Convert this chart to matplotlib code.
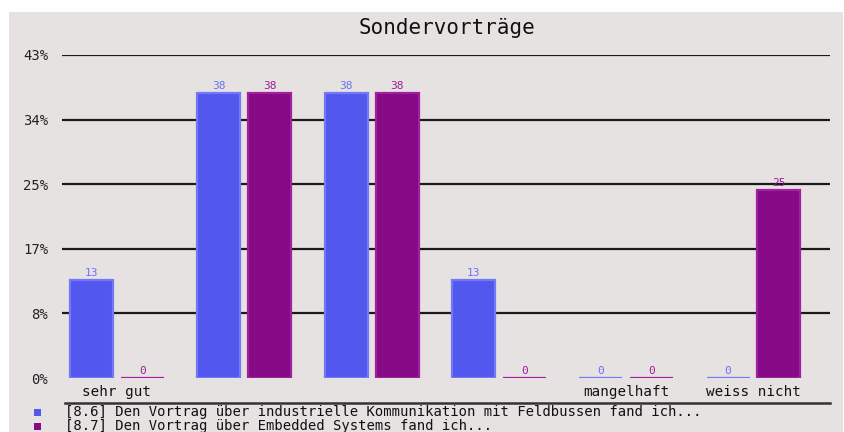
import matplotlib
matplotlib.use("Agg")
import matplotlib.pyplot as plt
from matplotlib.patches import Rectangle
from matplotlib.lines import Line2D

title = "Sondervorträge"
categories = ["sehr gut", "", "", "", "mangelhaft", "weiss nicht"]
series_names = [
    "[8.6] Den Vortrag über industrielle Kommunikation mit Feldbussen fand ich...",
    "[8.7] Den Vortrag über Embedded Systems fand ich...",
]
series1 = [13, 38, 38, 13, 0, 0]
series2 = [0, 38, 38, 0, 0, 25]
ytick_values = [0, 8.6, 17.2, 25.8, 34.4, 43]
ytick_labels = ["0%", "8%", "17%", "25%", "34%", "43%"]

fill_colors = ["#5257ee", "#860a86"]
edge_colors = ["#7478f6", "#a020a0"]
label_colors = ["#6c70f2", "#9a1e9a"]

W, H = 845, 432
fig = plt.figure(figsize=(W / 100, H / 100), dpi=100)
fig.patch.set_facecolor("white")
bg = Rectangle((9 / W, 0), (843 - 9) / W, (H - 12) / H,
               transform=fig.transFigure, facecolor="#e6e2e2",
               edgecolor="none", zorder=-10)
fig.patches.append(bg)

font = "DejaVu Sans Mono"
ax = fig.add_axes([62 / W, (H - 378) / H, (830 - 62) / W, (378 - 55) / H])
ax.set_zorder(1)
ax.set_facecolor("none")
ax.set_ylim(0, 43)
ax.set_xlim(-0.432, 5.601)
for s in ax.spines.values():
    s.set_visible(False)

for v in ytick_values[1:]:
    ax.axhline(v, color="#1a1a1a", lw=1.6, zorder=1)

ax.set_yticks(ytick_values)
ax.set_yticklabels(ytick_labels, fontfamily=font, fontsize=10, color="#222222")
ax.tick_params(axis="y", length=0, pad=10)
ax.set_xticks(range(len(categories)))
ax.set_xticklabels(categories, fontfamily=font, fontsize=10.3, color="#111111")
ax.tick_params(axis="x", length=0, pad=5)

width = 0.338
offsets = [-0.2, 0.2]
for k, vals in enumerate([series1, series2]):
    xs = [i + offsets[k] for i in range(len(vals))]
    ax.bar(xs, vals, width=width, color=fill_colors[k], edgecolor=edge_colors[k],
           linewidth=1.6, zorder=2)
    for x, v in zip(xs, vals):
        ax.annotate(str(v), (x, v), xytext=(0, 4), textcoords="offset pixels",
                    ha="center", va="baseline", fontfamily=font, fontsize=8,
                    color=label_colors[k], zorder=3)

fig.text(447 / W, 1 - 28 / H, title, ha="center", va="center",
         fontfamily=font, fontsize=15, color="#111111")

fig.add_artist(Line2D([65 / W, 830 / W], [1 - 403 / H, 1 - 403 / H],
                      transform=fig.transFigure, color="#333333", lw=1.8))
for k, name in enumerate(series_names):
    y = 1 - (412 + 14 * k) / H
    fig.add_artist(Rectangle((34 / W, y - 3.5 / H), 7 / W, 7 / H,
                             transform=fig.transFigure,
                             facecolor=fill_colors[k], edgecolor="none"))
    fig.text(65 / W, y, name, ha="left", va="center", fontfamily=font,
             fontsize=10, color="#111111")

fig.savefig("out.png", dpi=100, facecolor=fig.get_facecolor())
